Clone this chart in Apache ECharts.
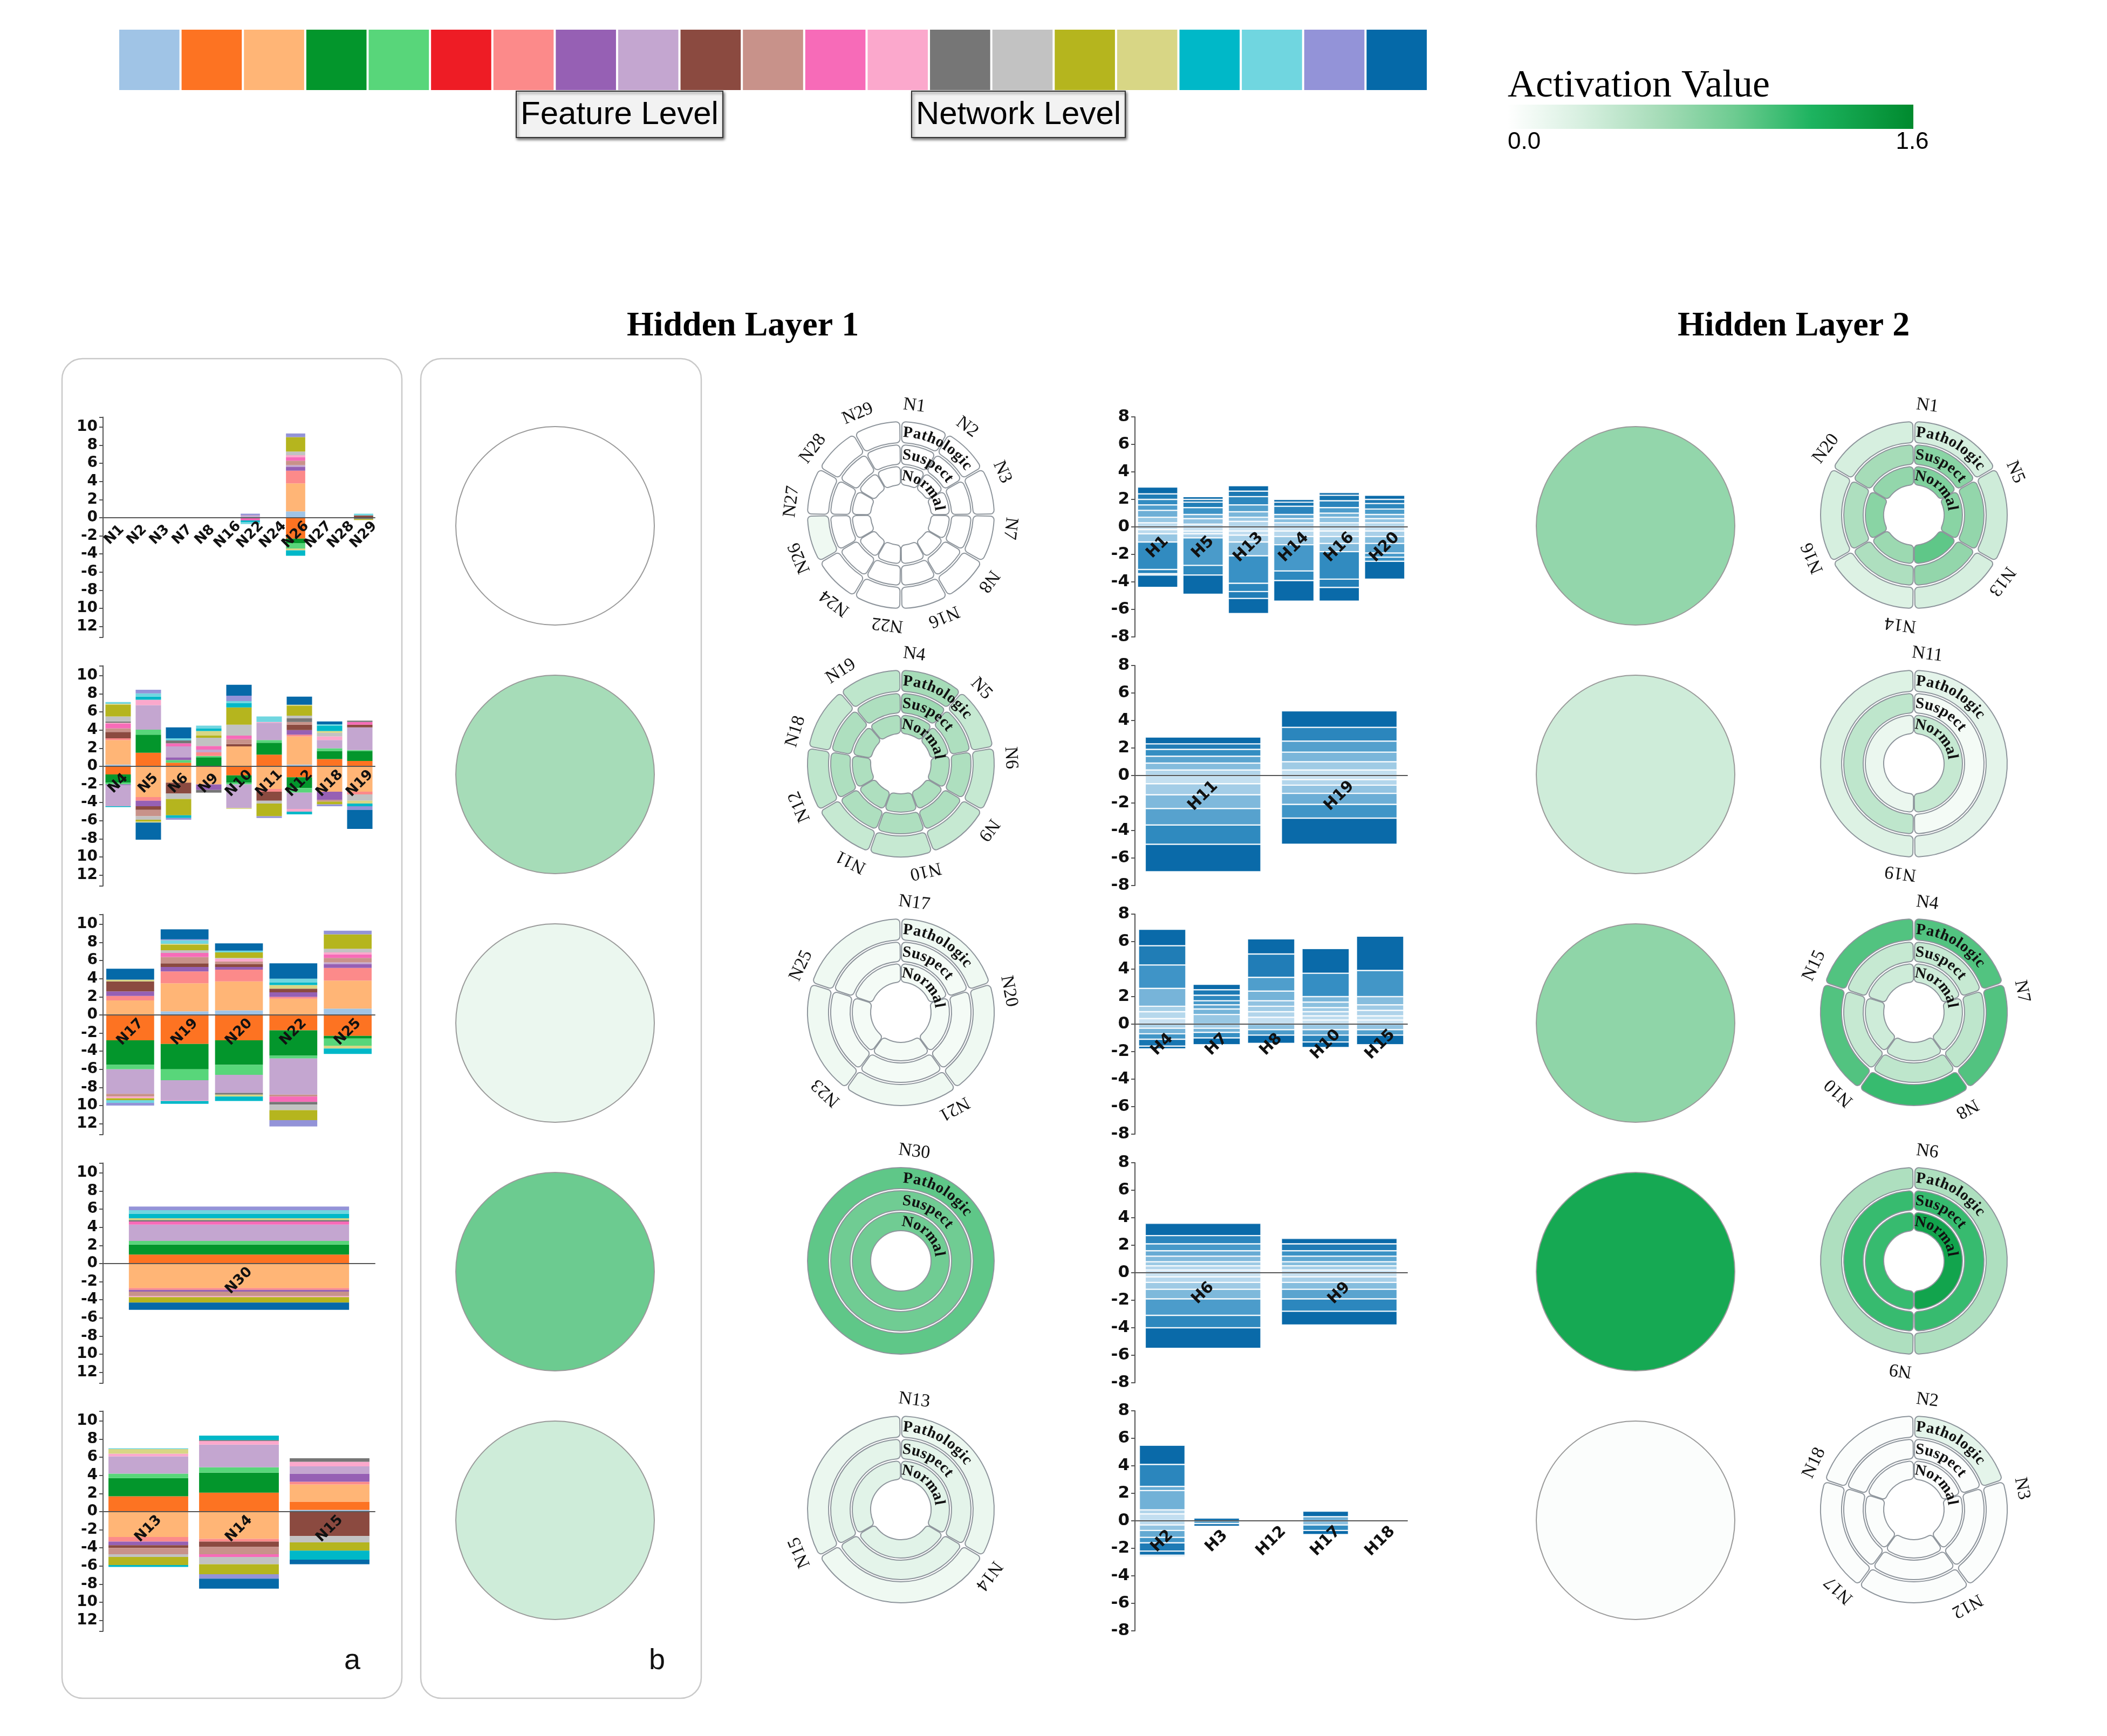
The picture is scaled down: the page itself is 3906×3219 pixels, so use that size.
<!DOCTYPE html>
<html><head><meta charset="utf-8">
<script src="https://cdn.jsdelivr.net/npm/echarts@6/dist/echarts.min.js"></script>
<style>html,body{margin:0;padding:0;background:#fff}#c{width:3906px;height:3219px}</style>
</head><body><div id="c"></div>
<script>
// ---------------- DATA ----------------
const featureColors = ['#a0c4e6','#fd7322','#ffb576','#03962c','#58d67a','#ee1c25','#fc8a8a','#9660b4','#c4a6d0','#8b4a40','#c8928a','#f76bb8','#fba8cc','#767676','#c2c2c2','#b5b51e','#d8d685','#00b8c8','#70d6e0','#9393d8','#0569a8'];

// panel a : feature contributions (21 features) per node
const aRow1Nodes = ['N1','N2','N3','N7','N8','N16','N22','N24','N26','N27','N28','N29'];
const aRow1Values = [
 [0,0,0,0,0,0,0,0,0,0,0,0,0,0,0,0,0,0,0,0,0],
 [0,0,0,0,0,0,0,0,0,0,0,0,0,0,0,0,0,0,0,0,0],
 [0,0,0,0,0,0,0,0,0,0,0,0,0,0,0,0,0,0,0,0,0],
 [0,0,0,0,0,0,0,0,0,0,0,0,0,0,0,0,0,0,0,0,0],
 [0,0,0,0,0,0,0,0,0,0,0,0,0,0,0,0,0,0,0,0,0],
 [0,0,0,0,0,0,0,0,0,0,0,0,0,0,0,0,0,0,0,0,0],
 [0.1,0,0,0,0,0,0,0,0.2,0,0,-0.3,0,0,0,0,0,-0.2,-0.2,0.15,0],
 [0,0,0,0,0,0,0,0,0,0,0,0,0,0,0,0,0,0,0,0,0],
 [0.7,-2.3,3.1,-0.5,-0.6,0,1.4,0.4,0.2,0,0.5,0.4,0.2,0,0.4,1.6,-0.2,-0.6,0,0.4,0],
 [0,0,0,0,0,0,0,0,0,0,0,0,0,0,0,0,0,0,0,0,0],
 [0,0,0,0,0,0,0,0,0,0,0,0,0,0,0,0,0,0,0,0,0],
 [0,0,0,0,0,0,0,0,0,0.25,0,0,0,-0.15,0,-0.1,0,0,0.2,0,0]
];
const aRow2Nodes = ['N4','N5','N6','N9','N10','N11','N12','N18','N19'];
const aRow2Values = [
 [0.2,-0.9,2.7,-0.9,-0.2,0,0.2,-0.1,-2.3,0.7,0.4,0.5,0.1,0.15,0.55,1.3,0.1,-0.1,0.2,0,0],
 [0,1.5,-3.4,2.0,0.55,0,-0.4,-0.6,2.7,-0.4,-0.7,0,0.6,0,-0.4,-0.2,-0.1,0.35,0.35,0.4,-1.9],
 [0,0.4,-1.8,0,0.3,0,0,0.3,1.2,-1.2,0,0.35,0,0.3,-0.6,-1.8,0,-0.3,0.25,-0.2,1.2],
 [0,0,-2.0,1.0,0.15,0,0.4,-0.6,0.3,0,0,0.4,0,-0.3,0.9,0.25,0.5,0.3,0.3,0,0],
 [0,-1.0,2.2,-0.8,-0.2,0,0,0,-2.6,0.25,0.55,0.4,0,0,1.2,1.9,-0.1,0.5,0.2,0.6,1.2],
 [0,1.3,-2.5,1.3,0.3,0,-0.3,0,1.9,-1.0,0,0,0.1,0,-0.3,-1.4,0,0,0.6,-0.2,0],
 [0.2,-1.2,3.1,-1.2,-0.5,0,0.2,0.5,-1.8,0.6,0.3,0,-0.3,0.4,0.3,1.1,0.1,-0.3,0,0,0.9],
 [0,0.8,-2.8,0.9,0.3,0,0,-0.9,0.9,0,-0.2,0,0.4,0,0.4,-0.3,0.2,0.6,0.15,-0.2,0.3],
 [0,0.6,-2.8,1.1,0.1,0,-0.3,0,2.5,0.3,0,0.3,0,0.15,-0.7,0,-0.3,-0.3,0,-0.4,-2.1]
];
const aRow3Nodes = ['N17','N19','N20','N22','N25'];
const aRow3Values = [
 [0,-2.8,1.6,-2.7,-0.5,0,0.5,0.5,-2.7,1.1,-0.3,0,-0.2,0,0,-0.2,0.2,0,-0.3,-0.3,1.2],
 [0.4,-3.2,3.1,-2.8,-1.2,0,1.3,0.5,-2.2,0.4,0.7,0.45,-0.1,0,0.3,0.6,0.1,-0.3,0.4,0.1,1.1],
 [0.5,-2.8,3.2,-2.7,-1.1,0,1.3,0.3,-2.0,0.3,0.3,0,0.3,-0.2,0.1,0.6,-0.2,-0.5,0.2,0,0.8],
 [0,-1.7,1.8,-2.8,-0.3,0,0.2,0.5,-4.0,0.4,-0.2,-0.6,0,-0.3,-0.6,-1.1,0.4,0.3,0.4,-0.7,1.7],
 [0.7,-2.3,3.1,-0.3,-0.8,0,1.4,0.4,0.2,0,0.5,0.4,0.2,0,0.4,1.6,-0.3,-0.6,0,0.4,0]
];
const aRow4Nodes = ['N30'];
const aRow4Values = [
 [0,1.0,-2.7,1.1,0.4,0,-0.2,-0.2,1.8,0,-0.5,0.35,-0.1,0.15,0,-0.6,0.2,0.5,0.4,0.4,-0.8]
];
const aRow5Nodes = ['N13','N14','N15'];
const aRow5Values = [
 [0,1.7,-2.8,2.0,0.5,0,-0.5,-0.4,1.9,-0.3,-0.7,0,0.3,0,-0.3,-0.9,0.5,-0.2,0.1,0,0],
 [0,2.1,-3.0,2.2,0.6,0,-0.3,0,2.5,-0.6,-0.8,-0.3,0.4,0.1,-0.8,-1.1,0,0.5,0,-0.5,-1.1],
 [0.2,0.9,1.9,0,0,0,0.3,0.9,0.8,-2.7,0,0,0.5,0.4,-0.7,-0.9,0,-1.0,0,0,-0.5]
];
const aTickLabels = [-12,-10,-8,-6,-4,-2,0,2,4,6,8,10];

// panel b / hidden layer 2 circle activations
const featureActivation = [0.0, 0.6, 0.15, 0.9, 0.35];
const networkActivation = [0.7, 0.35, 0.72, 1.3, 0.03];

// hidden layer 1 rings
const r1Row1Nodes = ['N1','N2','N3','N7','N8','N16','N22','N24','N26','N27','N28','N29'];
const r1Row1Patho   = [0,0,0,0,0,0,0,0,0.12,0,0,0];
const r1Row1Suspect = [0,0,0,0,0,0,0,0,0,0,0,0];
const r1Row1Normal  = [0,0,0,0,0,0,0,0,0,0,0,0];
const r1Row2Nodes = ['N4','N5','N6','N9','N10','N11','N12','N18','N19'];
const r1Row2Patho   = [0.6,0.4,0.4,0.4,0.4,0.4,0.45,0.4,0.45];
const r1Row2Suspect = [0.65,0.55,0.55,0.55,0.55,0.55,0.55,0.55,0.55];
const r1Row2Normal  = [0.6,0.55,0.55,0.55,0.55,0.55,0.55,0.55,0.55];
const r1Row3Nodes = ['N17','N20','N21','N23','N25'];
const r1Row3Patho   = [0.12,0.12,0.12,0.12,0.12];
const r1Row3Suspect = [0.08,0.08,0.08,0.08,0.08];
const r1Row3Normal  = [0.08,0.08,0.08,0.08,0.08];
const r1Row4Nodes = ['N30'];
const r1Row4Patho   = [0.95];
const r1Row4Suspect = [0.88];
const r1Row4Normal  = [0.88];
const r1Row5Nodes = ['N13','N14','N15'];
const r1Row5Patho   = [0.15,0.12,0.15];
const r1Row5Suspect = [0.2,0.2,0.2];
const r1Row5Normal  = [0.22,0.22,0.22];

// hidden layer 1 bars (segment magnitudes from zero outward)
const hRow1Nodes = ['H1','H5','H13','H14','H16','H20'];
const hRow1Pos = [[0.3,0.4,0.5,0.4,0.4,0.4,0.5],[0.2,0.4,0.3,0.5,0.4,0.2,0.2],[0.4,0.3,0.4,0.5,0.6,0.4,0.4],[0.3,0.3,0.3,0.6,0.3,0.2],[0.3,0.4,0.3,0.4,0.5,0.4,0.2],[0.3,0.3,0.3,0.4,0.4,0.3,0.3]];
const hRow1Neg = [[0.2,0.3,0.6,2.0,0.3,0.1,0.9],[0.3,0.2,0.3,2.0,0.7,1.4],[0.3,0.3,0.5,1.0,2.0,0.6,0.5,1.1],[0.3,0.4,0.6,1.9,0.7,1.5],[0.3,0.4,0.5,0.6,2.0,0.6,1.0],[0.3,0.4,0.5,0.7,0.3,0.3,1.3]];
const hRow2Nodes = ['H11','H19'];
const hRow2Pos = [[0.4,0.5,0.5,0.5,0.4,0.5],[0.4,0.6,0.7,0.8,1.0,1.2]];
const hRow2Neg = [[0.6,0.8,1.0,1.2,1.4,2.0],[0.3,0.4,0.6,0.8,1.0,1.9]];
const hRow3Nodes = ['H4','H7','H8','H10','H15'];
const hRow3Pos = [[0.4,0.5,0.4,1.3,1.7,1.4,1.2],[0.7,0.4,0.3,0.3,0.4,0.4,0.4],[0.5,0.4,0.4,0.4,0.7,1.0,1.7,1.1],[0.3,0.3,0.3,0.3,0.4,0.4,1.7,1.8],[0.3,0.3,0.4,0.4,0.6,1.9,2.5]];
const hRow3Neg = [[0.3,0.4,0.4,0.5,0.2],[0.3,0.3,0.4,0.5],[0.4,0.4,0.6],[0.4,0.4,0.5,0.4],[0.4,0.4,0.7]];
const hRow4Nodes = ['H6','H9'];
const hRow4Pos = [[0.2,0.3,0.3,0.4,0.4,0.5,0.6,0.9],[0.2,0.3,0.3,0.4,0.4,0.5,0.4]];
const hRow4Neg = [[0.3,0.4,0.5,0.7,1.2,0.9,1.5],[0.3,0.4,0.5,0.7,0.9,1.0]];
const hRow5Nodes = ['H2','H3','H12','H17','H18'];
const hRow5Pos = [[0.5,0.3,1.4,0.3,1.6,1.4],[0.2],[],[0.3,0.4],[]];
const hRow5Neg = [[0.3,0.4,0.5,0.4,0.6,0.3,0.1],[0.2,0.2],[],[0.3,0.4,0.3],[]];
const hTickLabels = [-8,-6,-4,-2,0,2,4,6,8];

// hidden layer 2 rings
const r2Row1Nodes = ['N1','N5','N13','N14','N16','N20'];
const r2Row1Patho   = [0.3,0.35,0.3,0.25,0.3,0.3];
const r2Row1Suspect = [0.75,0.7,0.7,0.55,0.55,0.6];
const r2Row1Normal  = [0.8,0.75,0.95,0.65,0.75,0.7];
const r2Row2Nodes = ['N11','N19'];
const r2Row2Patho   = [0.2,0.25];
const r2Row2Suspect = [0.08,0.45];
const r2Row2Normal  = [0.4,0.15];
const r2Row3Nodes = ['N4','N7','N8','N10','N15'];
const r2Row3Patho   = [1.0,1.0,1.1,1.0,1.0];
const r2Row3Suspect = [0.4,0.45,0.45,0.4,0.4];
const r2Row3Normal  = [0.35,0.35,0.35,0.35,0.35];
const r2Row4Nodes = ['N6','N9'];
const r2Row4Patho   = [0.55,0.55];
const r2Row4Suspect = [1.1,1.1];
const r2Row4Normal  = [1.35,1.1];
const r2Row5Nodes = ['N2','N3','N12','N17','N18'];
const r2Row5Patho   = [0.2,0.03,0.03,0.03,0.03];
const r2Row5Suspect = [0.03,0.03,0.03,0.03,0.03];
const r2Row5Normal  = [0.03,0.03,0.03,0.03,0.03];

const ringWords = ['Pathologic','Suspect','Normal'];
const actMin = 0.0, actMax = 1.6;

// ---------------- STYLE / LAYOUT ----------------
const actStops = [[0,'#ffffff'],[0.3,'#d6efdf'],[0.6,'#a6dcb8'],[0.9,'#6ccb90'],[1.2,'#1db35f'],[1.6,'#008a2e']];
const blueStops = [[0,'#f2f8fc'],[0.25,'#c2def0'],[0.5,'#7db8db'],[0.75,'#3790c4'],[1,'#0a6aa9']];
function hex2rgb(h){return [parseInt(h.slice(1,3),16),parseInt(h.slice(3,5),16),parseInt(h.slice(5,7),16)];}
function interp(stops, v){
  if (v <= stops[0][0]) return stops[0][1];
  for (let i=1;i<stops.length;i++){
    if (v <= stops[i][0]){
      const t=(v-stops[i-1][0])/(stops[i][0]-stops[i-1][0]);
      const a=hex2rgb(stops[i-1][1]), b=hex2rgb(stops[i][1]);
      return 'rgb('+a.map((x,k)=>Math.round(x+(b[k]-x)*t)).join(',')+')';
    }
  }
  return stops[stops.length-1][1];
}
const actColor = v => interp(actStops, v);
const blueColor = t => interp(blueStops, t);

const SANS = 'DejaVu Sans', SERIF = 'Liberation Serif';
const aZero = [960, 1421, 1882, 2343, 2803], AU = 16.8;
const hZero = [977, 1438, 1899, 2360, 2820], HU = 25.5;
const ringCY = [955, 1416, 1877, 2338, 2799];
const circleCY = [975, 1436, 1897, 2358, 2819];

const option = { animation:false, backgroundColor:'#ffffff', grid:[], xAxis:[], yAxis:[], series:[], graphic:[] };

function xAxisCfg(gi, nodes, fs, margin, offset){
  return {type:'category', gridIndex:gi, data:nodes, z:10, position:'bottom', offset:offset,
    axisLine:{onZero:false, lineStyle:{color:'#555', width:2}},
    axisTick:{alignWithLabel:true, length:7, lineStyle:{color:'#555', width:2}},
    axisLabel:{interval:0, rotate:45, align:'center', verticalAlign:'middle', margin:margin,
      fontSize:fs, fontWeight:'bold', color:'#111', fontFamily:SANS}};
}

function addAChart(r, nodes, values, gap){
  const Z = aZero[r], gi = option.grid.length;
  option.grid.push({left:191, width:504, top:Z-11.1*AU, height:24.3*AU});
  option.xAxis.push(xAxisCfg(gi, nodes, 26, 32, -13.2*AU));
  option.yAxis.push({type:'value', gridIndex:gi, min:-13.2, max:11.1, splitLine:{show:false},
    axisLine:{show:true, lineStyle:{color:'#555', width:2}},
    axisTick:{show:true, length:7, customValues:[-13.2].concat(aTickLabels,[11.1]), lineStyle:{color:'#555', width:2}},
    axisLabel:{customValues:aTickLabels, margin:10, fontSize:28, fontWeight:'bold', color:'#111', fontFamily:SANS,
      formatter:v => (v <= -10 ? String(-v) : String(v))}});
  for (let f=0; f<featureColors.length; f++){
    option.series.push({type:'bar', name:'F'+(f+1), xAxisIndex:gi, yAxisIndex:gi, stack:'a'+r,
      barCategoryGap:gap, silent:true, itemStyle:{color:featureColors[f]},
      data:values.map(v => v[f] === 0 ? '-' : v[f])});
  }
}

function addHChart(r, nodes, pos, neg, gap){
  const Z = hZero[r], gi = option.grid.length;
  option.grid.push({left:2104, width:505, top:Z-8*HU, height:16*HU});
  option.xAxis.push(xAxisCfg(gi, nodes, 29, 38, -8*HU));
  option.yAxis.push({type:'value', gridIndex:gi, min:-8, max:8, interval:2, splitLine:{show:false},
    axisLine:{show:true, lineStyle:{color:'#555', width:2}},
    axisTick:{show:true, length:7, lineStyle:{color:'#555', width:2}},
    axisLabel:{customValues:hTickLabels, margin:10, fontSize:31, fontWeight:'bold', color:'#111', fontFamily:SANS}});
  const sum = a => a.reduce((s,x)=>s+x,0);
  [[pos,1],[neg,-1]].forEach(([segs, sign]) => {
    const K = Math.max(...segs.map(a=>a.length));
    for (let k=0;k<K;k++){
      option.series.push({type:'bar', xAxisIndex:gi, yAxisIndex:gi, stack:'h'+r, barCategoryGap:gap, silent:true,
        itemStyle:{borderColor:'rgba(255,255,255,0.85)', borderWidth:1.2},
        data:segs.map(a => {
          if (k >= a.length) return '-';
          const t = sum(a.slice(0,k+1))/sum(a);
          return {value: sign*a[k], itemStyle:{color: blueColor(0.12 + 0.88*Math.pow(t,0.8))}};
        })});
    }
  });
}

function addCircle(cx, cy, v){
  option.series.push({type:'pie', center:[cx,cy], radius:[0,184], silent:true, label:{show:false}, labelLine:{show:false},
    itemStyle:{borderColor:'#9a9a9a', borderWidth:2},
    data:[{value:1, itemStyle:{color:actColor(v)}}]});
}

const measureCtx = document.createElement('canvas').getContext('2d');
function arcWord(word, cx, cy, rad, startDeg, font, spacing){
  measureCtx.font = font;
  let s = startDeg*Math.PI/180*rad;
  for (const ch of word){
    const w = measureCtx.measureText(ch).width;
    const a = (s + w/2)/rad;
    option.graphic.push({type:'text', x:cx+rad*Math.sin(a), y:cy-rad*Math.cos(a), rotation:-a, z:100, silent:true,
      style:{text:ch, font:font, fill:'#111', align:'center', verticalAlign:'middle', textAlign:'center', textVerticalAlign:'middle'}});
    s += w + spacing;
  }
}

const ringRadii = [[134,173],[94,130],[56,90]];
function addRing(cx, cy, nodes, patho, suspect, normal){
  [patho, suspect, normal].forEach((vals, k) => {
    option.series.push({type:'pie', center:[cx,cy], radius:ringRadii[k], startAngle:90, clockwise:true,
      padAngle: nodes.length > 1 ? 1.3 : 0, silent:true, label:{show:false}, labelLine:{show:false},
      itemStyle:{borderRadius:7, borderColor:'#8e959c', borderWidth:2},
      data:nodes.map((n,i)=>({name:n, value:1, itemStyle:{color:actColor(vals[i])}}))});
  });
  const w = 360/nodes.length;
  option.series.push({type:'pie', center:[cx,cy], radius:[185,217], startAngle:83+w/2, clockwise:true, silent:true,
    itemStyle:{color:'rgba(0,0,0,0)'}, labelLine:{show:false},
    label:{show:true, position:'inside', fontFamily:SERIF, fontSize:34, color:'#111'},
    data:nodes.map((n,i)=>({name:n, value:1, label:{rotate:-(7+i*w)}}))});
  ringWords.forEach((wd,k) => arcWord(wd, cx, cy, (ringRadii[k][0]+ringRadii[k][1])/2 - 1, 1.5, 'bold 29px "Liberation Serif"', 1.5));
}

// ---- build rows ----
const aRows = [[aRow1Nodes,aRow1Values,'15%'],[aRow2Nodes,aRow2Values,'16%'],[aRow3Nodes,aRow3Values,'12%'],[aRow4Nodes,aRow4Values,'19%'],[aRow5Nodes,aRow5Values,'12%']];
aRows.forEach((d,r) => addAChart(r, d[0], d[1], d[2]));
const hRows = [[hRow1Nodes,hRow1Pos,hRow1Neg,'11%'],[hRow2Nodes,hRow2Pos,hRow2Neg,'15%'],[hRow3Nodes,hRow3Pos,hRow3Neg,'13%'],[hRow4Nodes,hRow4Pos,hRow4Neg,'15%'],[hRow5Nodes,hRow5Pos,hRow5Neg,'16%']];
hRows.forEach((d,r) => addHChart(r, d[0], d[1], d[2], d[3]));
featureActivation.forEach((v,r) => addCircle(1029, circleCY[r], v));
networkActivation.forEach((v,r) => addCircle(3032, circleCY[r], v));
const r1Rows = [[r1Row1Nodes,r1Row1Patho,r1Row1Suspect,r1Row1Normal],[r1Row2Nodes,r1Row2Patho,r1Row2Suspect,r1Row2Normal],[r1Row3Nodes,r1Row3Patho,r1Row3Suspect,r1Row3Normal],[r1Row4Nodes,r1Row4Patho,r1Row4Suspect,r1Row4Normal],[r1Row5Nodes,r1Row5Patho,r1Row5Suspect,r1Row5Normal]];
r1Rows.forEach((d,r) => addRing(1670, ringCY[r], d[0], d[1], d[2], d[3]));
const r2Rows = [[r2Row1Nodes,r2Row1Patho,r2Row1Suspect,r2Row1Normal],[r2Row2Nodes,r2Row2Patho,r2Row2Suspect,r2Row2Normal],[r2Row3Nodes,r2Row3Patho,r2Row3Suspect,r2Row3Normal],[r2Row4Nodes,r2Row4Patho,r2Row4Suspect,r2Row4Normal],[r2Row5Nodes,r2Row5Patho,r2Row5Suspect,r2Row5Normal]];
r2Rows.forEach((d,r) => addRing(3548, ringCY[r], d[0], d[1], d[2], d[3]));

// ---- decorations ----
const G = option.graphic;
const swW = (2647-219)/featureColors.length;
featureColors.forEach((c,i) => G.push({type:'rect', silent:true, shape:{x:219+i*swW+2, y:55, width:swW-4, height:112}, style:{fill:c}}));
[['Feature Level',957,383],['Network Level',1690,396]].forEach(([t,x,w]) => {
  G.push({type:'rect', silent:true, z:5, shape:{x:x, y:169, width:w, height:86}, style:{fill:'#f2f2f2', stroke:'#333', lineWidth:2, shadowBlur:5, shadowColor:'rgba(0,0,0,0.55)', shadowOffsetX:2, shadowOffsetY:3}});
  G.push({type:'text', silent:true, z:6, x:x+w/2, y:213, style:{text:t, font:'60px "Liberation Sans"', fill:'#000', align:'center', verticalAlign:'middle', textAlign:'center', textVerticalAlign:'middle'}});
});
G.push({type:'text', silent:true, x:2795, y:160, style:{text:'Activation Value', font:'72px "Liberation Serif"', fill:'#000', align:'left', verticalAlign:'middle', textAlign:'left', textVerticalAlign:'middle'}});
G.push({type:'rect', silent:true, shape:{x:2795, y:194, width:752, height:45},
  style:{fill:{type:'linear', x:0, y:0, x2:1, y2:0, colorStops:actStops.map(s=>({offset:(s[0]-actMin)/(actMax-actMin), color:s[1]}))}}});
G.push({type:'text', silent:true, x:2795, y:264, style:{text:actMin.toFixed(1), font:'44px "Liberation Sans"', fill:'#000', align:'left', verticalAlign:'middle', textAlign:'left', textVerticalAlign:'middle'}});
G.push({type:'text', silent:true, x:3545, y:264, style:{text:actMax.toFixed(1), font:'44px "Liberation Sans"', fill:'#000', align:'center', verticalAlign:'middle', textAlign:'center', textVerticalAlign:'middle'}});
G.push({type:'text', silent:true, x:1377, y:605, style:{text:'Hidden Layer 1', font:'bold 64px "Liberation Serif"', fill:'#000', align:'center', verticalAlign:'middle', textAlign:'center', textVerticalAlign:'middle'}});
G.push({type:'text', silent:true, x:3325, y:605, style:{text:'Hidden Layer 2', font:'bold 64px "Liberation Serif"', fill:'#000', align:'center', verticalAlign:'middle', textAlign:'center', textVerticalAlign:'middle'}});
G.push({type:'rect', silent:true, z:-1, shape:{x:115, y:665, width:630, height:2484, r:38}, style:{fill:'none', stroke:'#c9c9c9', lineWidth:2.5}});
G.push({type:'rect', silent:true, z:-1, shape:{x:780, y:665, width:520, height:2484, r:38}, style:{fill:'none', stroke:'#c9c9c9', lineWidth:2.5}});
G.push({type:'text', silent:true, x:653, y:3080, style:{text:'a', font:'54px "Liberation Sans"', fill:'#111', align:'center', verticalAlign:'middle', textAlign:'center', textVerticalAlign:'middle'}});
G.push({type:'text', silent:true, x:1218, y:3080, style:{text:'b', font:'54px "Liberation Sans"', fill:'#111', align:'center', verticalAlign:'middle', textAlign:'center', textVerticalAlign:'middle'}});

const chart = echarts.init(document.getElementById('c'), null, {renderer:'canvas', width:3906, height:3219});
chart.setOption(option);
</script></body></html>
